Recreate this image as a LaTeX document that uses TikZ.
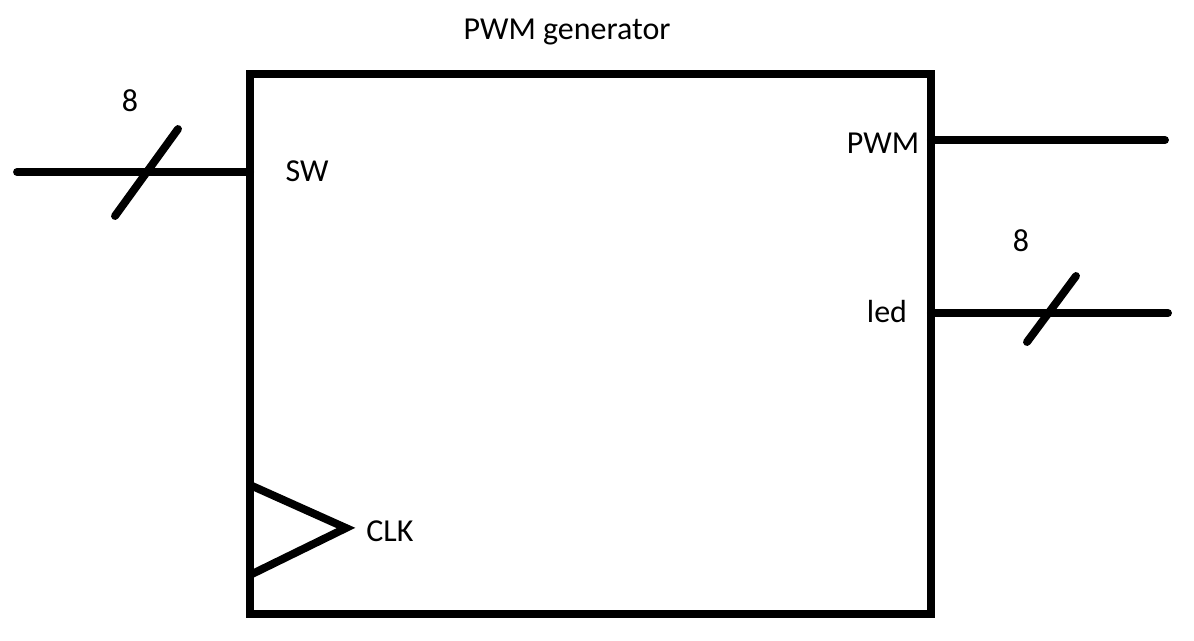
\documentclass[tikz,border=0pt]{standalone}
\usepackage{fontspec}
\setmainfont{Carlito}

\begin{document}
\begin{tikzpicture}[
            x = 0.02cm, y = -0.02cm,
            every node/.style={font=\fontsize{18.2}{21}\selectfont, inner sep=0pt},
            line/.style={line width = 4.5pt},
            wire/.style={line width = 4.5pt, line cap=round},
            ]
        \useasboundingbox (0,0) rectangle (1194,640);

        \node[draw, line width=4.5pt, minimum width=13.62cm, minimum height=10.8cm, outer sep=0pt] (pwmgen) at (590.5,344) {};
        \node (title) at (567,32) {PWM generator};

        % inputs
        \coordinate (swin) at (17,172);
        \coordinate (swa) at (115,216);
        \coordinate (swb) at (178,129);
        \node (swlbl) at (307,171) {SW};
        \node (swbits) at (130,101) {8};
        \draw[wire] (swin) -- (pwmgen.west |- swin);
        \draw[wire] (swa) -- (swb);

        \coordinate (clka) at (250,485);
        \coordinate (clkb) at (346,528);
        \coordinate (clkc) at (250,575);
        \draw[line] (clka) -- (clkb) -- (clkc);
        \node (clklbl) at (390,531) {CLK};

        % outputs
        \coordinate (pwmout) at (1165,140);
        \node (pwmlbl) at (883,143) {PWM};
        \draw[wire] (pwmgen.east |- pwmout) -- (pwmout);

        \coordinate (ledout) at (1168,313);
        \coordinate (leda) at (1027,342);
        \coordinate (ledb) at (1076,276);
        \node (ledlbl) at (887,312) {led};
        \node (ledbits) at (1021,241) {8};
        \draw[wire] (pwmgen.east |- ledout) -- (ledout);
        \draw[wire] (leda) -- (ledb);
    \end{tikzpicture}
\end{document}
